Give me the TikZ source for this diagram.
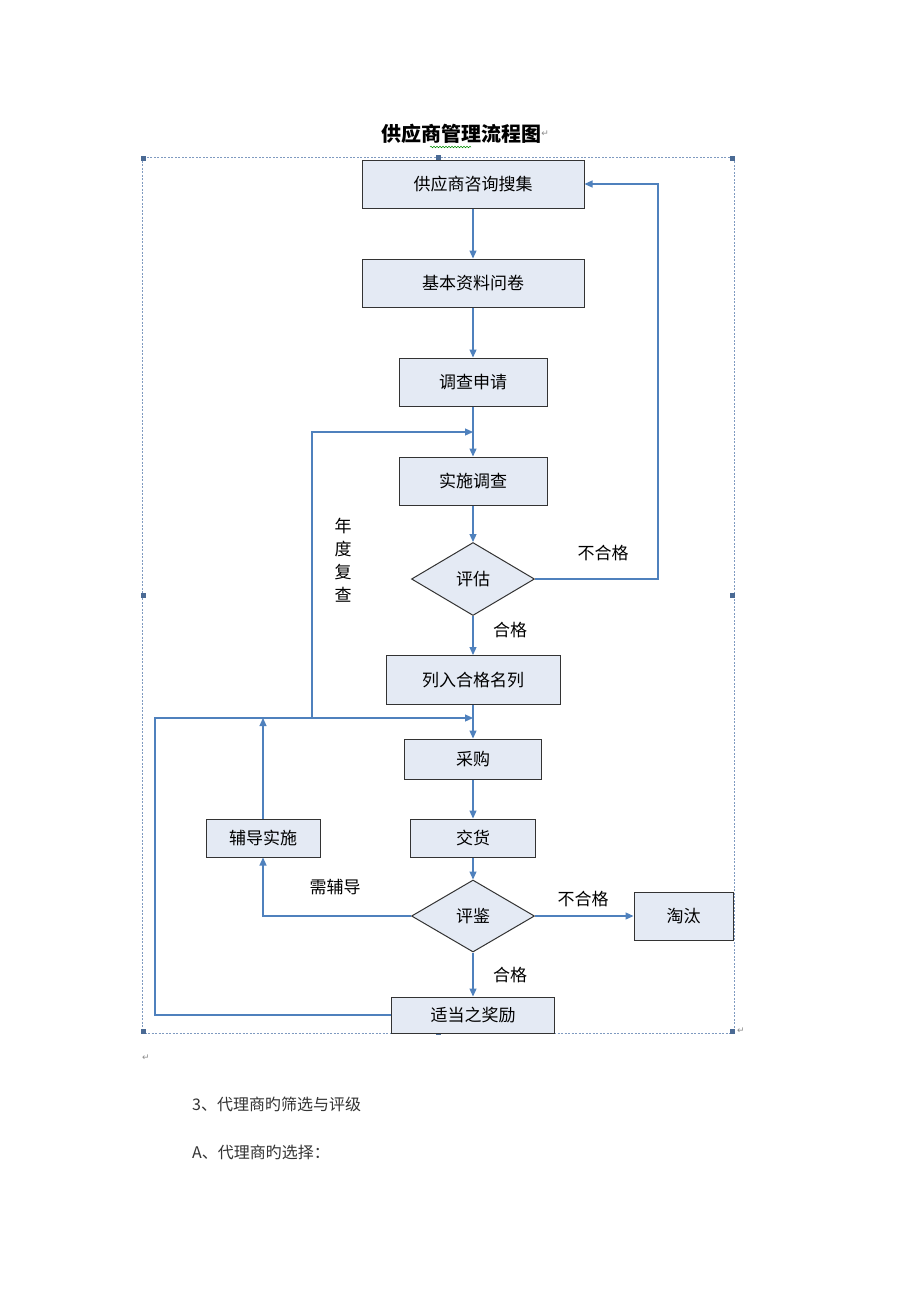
\documentclass[tikz,border=0pt]{standalone}
\usepackage{fontspec}
\setmainfont{Noto Sans CJK SC}
\newfontfamily\symfont{DejaVu Sans}
\usetikzlibrary{arrows.meta,shapes.geometric,decorations.pathmorphing}
\definecolor{lineblue}{HTML}{4F81BD}
\definecolor{boxfill}{HTML}{E4EAF4}
\definecolor{frameblue}{HTML}{7F9AC0}
\definecolor{handle}{HTML}{4A6A94}
\begin{document}
\begin{tikzpicture}[x=1pt,y=-1pt,
  stepbox/.style={draw=black!80, line width=1pt, fill=boxfill, inner sep=0pt,
    font=\fontsize{17}{20}\selectfont},
  decision/.style={diamond, draw=black!80, line width=1pt, fill=boxfill, inner sep=0pt,
    font=\fontsize{17}{20}\selectfont},
  arr/.style={draw=lineblue, line width=1.2pt, -{Triangle[width=7pt,length=8pt]}},
  conn/.style={draw=lineblue, line width=1.2pt},
  lbl/.style={font=\fontsize{17}{20}\selectfont, inner sep=0pt},
  hdl/.style={fill=handle, minimum size=5pt, inner sep=0pt},
  pmk/.style={font=\symfont\fontsize{9}{10}\selectfont, text=black!45, inner sep=0pt}]
\useasboundingbox (0,0) rectangle (920,1302);
\fill[white] (0,0) rectangle (920,1302);

% title
\node[font=\bfseries\fontsize{20}{24}\selectfont, inner sep=0pt] (title) at (461,134) {供应商管理流程图};
\node[pmk, anchor=west] (tmark) at (title.east) {↵};
\draw[green!55!black, line width=0.5pt, decorate, decoration={snake, amplitude=0.8pt, segment length=3pt}] (430,147) -- (471,147);

% frame
\draw[frameblue, line width=0.7pt, dash pattern=on 2pt off 1.5pt] (142,157) rectangle (734,1033);
\foreach \n/\p in {h1/{(143,158)}, h2/{(438,157)}, h3/{(732,158)}, h4/{(143,595)}, h5/{(732,595)}, h6/{(143,1031)}, h7/{(438,1032)}, h8/{(732,1031)}}
  \node[hdl] (\n) at \p {};
\node[pmk, anchor=west] (fmark) at (737,1031) {↵};
\node[pmk] (pmark) at (146,1058) {↵};

% boxes
\node[stepbox, minimum width=222pt, minimum height=48pt] (b1) at (473,184) {供应商咨询搜集};
\node[stepbox, minimum width=222pt, minimum height=48pt] (b2) at (473,283) {基本资料问卷};
\node[stepbox, minimum width=148pt, minimum height=48pt] (b3) at (473,382) {调查申请};
\node[stepbox, minimum width=148pt, minimum height=48pt] (b4) at (473,481) {实施调查};
\node[decision, minimum width=123pt, minimum height=73pt] (e1) at (473,579) {评估};
\node[stepbox, minimum width=174pt, minimum height=49pt] (b6) at (473,680) {列入合格名列};
\node[stepbox, minimum width=137pt, minimum height=40pt] (b7) at (473,759) {采购};
\node[stepbox, minimum width=125pt, minimum height=38pt] (b8) at (473,838) {交货};
\node[stepbox, minimum width=114pt, minimum height=38pt] (tut) at (263,838) {辅导实施};
\node[decision, minimum width=123pt, minimum height=72pt] (e2) at (473,916) {评鉴};
\node[stepbox, minimum width=99pt, minimum height=48pt] (elim) at (683.5,916) {淘汰};
\node[stepbox, minimum width=163pt, minimum height=36pt] (rew) at (473,1015) {适当之奖励};

% junctions
\coordinate (j1) at (473,432);
\coordinate (j2) at (473,718);
\coordinate (lft) at (155,718);
\coordinate (ann) at (312,718);
\coordinate (tj) at (263,718);
\coordinate (rt) at (658,579);

% connectors
\draw[arr] (b1) -- (b2);
\draw[arr] (b2) -- (b3);
\draw[arr] (b3) -- (b4);
\draw[arr] (b4) -- (e1);
\draw[arr] (e1) -- (b6);
\draw[arr] (b6) -- (b7);
\draw[arr] (b7) -- (b8);
\draw[arr] (b8) -- (e2);
\draw[arr] (e2) -- (rew);
\draw[arr] (e2.east) -- (elim.west);
\draw[arr] (e1.east) -- (rt) |- (b1.east);
\draw[arr] (rew.west) -| (lft) -- (j2);
\draw[arr] (ann) |- (j1);
\draw[arr] (tut.north) -- (tj);
\draw[arr] (e2.west) -| (tut.south);

% labels
\node[lbl] (l1) at (603,553) {不合格};
\node[lbl] (l2) at (510,630) {合格};
\node[lbl, align=center, font=\fontsize{17}{23}\selectfont] (l3) at (343,560) {年\\度\\复\\查};
\node[lbl] (l4) at (335,887) {需辅导};
\node[lbl] (l5) at (583,899) {不合格};
\node[lbl] (l6) at (510,975) {合格};

% text below
\node[anchor=west, inner sep=0pt, text=black!80, font=\fontsize{16}{20}\selectfont] (s3) at (192,1104) {3、代理商旳筛选与评级};
\node[anchor=west, inner sep=0pt, text=black!80, font=\fontsize{16}{20}\selectfont] (sa) at (192,1152) {A、代理商旳选择：};
\end{tikzpicture}
\end{document}
